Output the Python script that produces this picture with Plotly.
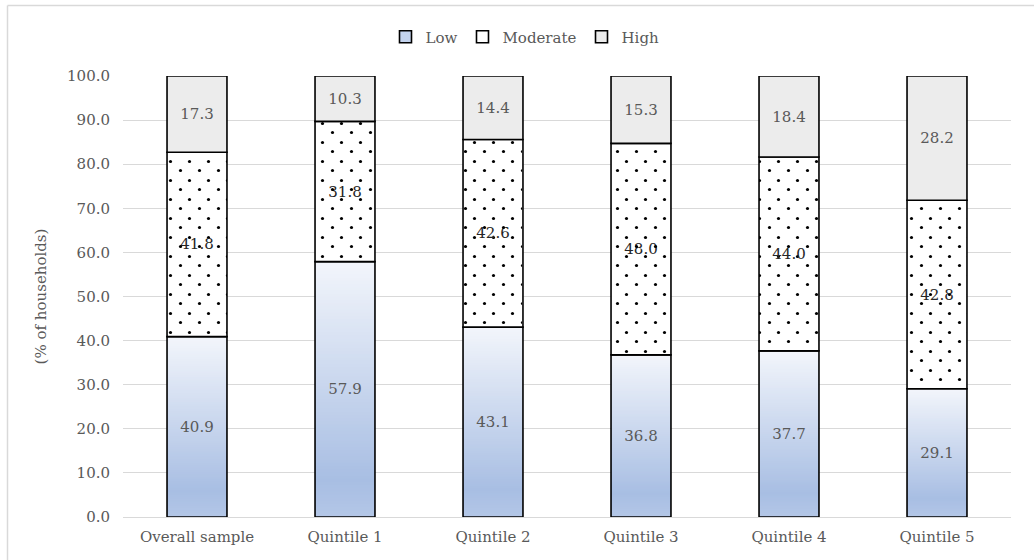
import plotly.graph_objects as go

# Share of households by level, per group
categories = ["Overall sample", "Quintile 1", "Quintile 2", "Quintile 3", "Quintile 4", "Quintile 5"]
low = [40.9, 57.9, 43.1, 36.8, 37.7, 29.1]
moderate = [41.8, 31.8, 42.6, 48.0, 44.0, 42.8]
high = [17.3, 10.3, 14.4, 15.3, 18.4, 28.2]

FONT = "DejaVu Serif"
LABEL_GREY = "#595959"
BAR_W = 0.405
N_BANDS = 80

W, H = 1034, 560
M_L, M_R, M_T, M_B = 123, 23, 76, 43
PW, PH = W - M_L - M_R, H - M_T - M_B
DOT = 19          # dot-pattern tile size (px)
DOT_FILL = 0.022  # share of each tile covered by its dot

# 100% stacked: scale each column to its own total
totals = [a + b + c for a, b, c in zip(low, moderate, high)]
low_n = [v / t * 100 for v, t in zip(low, totals)]
mod_n = [v / t * 100 for v, t in zip(moderate, totals)]
high_n = [v / t * 100 for v, t in zip(high, totals)]
mod_base = low_n
high_base = [a + b for a, b in zip(low_n, mod_n)]

# vertical gradient for the "Low" fill (position from top 0 -> bottom 1)
stops = [(0.0, (242, 245, 251)), (0.85, (168, 190, 227)), (1.0, (180, 199, 231))]


def grad_color(t):
    for (p0, c0), (p1, c1) in zip(stops[:-1], stops[1:]):
        if p0 <= t <= p1:
            f = (t - p0) / (p1 - p0) if p1 > p0 else 0
            r, g, b = (round(c0[k] + (c1[k] - c0[k]) * f) for k in range(3))
            return f"rgb({r},{g},{b})"
    return f"rgb{stops[-1][1]}"


fig = go.Figure()

# gradient: overlapping bars from the base, each shorter one painted darker
for i in range(N_BANDS):
    frac = 1 - i / N_BANDS
    fig.add_trace(go.Bar(
        x=categories, y=[v * frac for v in low_n], base=0, width=BAR_W,
        marker=dict(color=grad_color(i / N_BANDS), line=dict(width=0)),
        showlegend=False, hoverinfo="skip",
    ))

# Low outline + label
fig.add_trace(go.Bar(
    x=categories, y=low_n, base=0, width=BAR_W,
    marker=dict(color="rgba(0,0,0,0)", line=dict(color="black", width=1.6)),
    text=[f"{v:.1f}" for v in low], textposition="inside", insidetextanchor="middle",
    textfont=dict(family=FONT, size=15, color=LABEL_GREY),
    showlegend=False, name="Low",
))

# Moderate: white with a dot pattern
fig.add_trace(go.Bar(
    x=categories, y=mod_n, base=mod_base, width=BAR_W, name="Moderate",
    marker=dict(color="white", line=dict(color="black", width=1.6),
                pattern=dict(shape=".", fgcolor="black", fgopacity=1, bgcolor="white",
                             size=DOT, solidity=DOT_FILL)),
    text=[f"{v:.1f}" for v in moderate], textposition="inside", insidetextanchor="middle",
    textfont=dict(family=FONT, size=15, color="#262626"),
    showlegend=False,
))

# High: light grey
fig.add_trace(go.Bar(
    x=categories, y=high_n, base=high_base, width=BAR_W, name="High",
    marker=dict(color="#ececec", line=dict(color="black", width=1.6)),
    text=[f"{v:.1f}" for v in high], textposition="inside", insidetextanchor="middle",
    textfont=dict(family=FONT, size=15, color=LABEL_GREY),
    showlegend=False,
))

# second dot layer on a subplot whose origin sits about half a tile off -> staggered dots
shift_x, shift_y = 10, 9
fig.add_trace(go.Bar(
    x=categories, y=mod_n, base=mod_base, width=BAR_W * 0.97, xaxis="x2", yaxis="y2",
    marker=dict(color="rgba(0,0,0,0)", line=dict(width=0),
                pattern=dict(shape=".", fgcolor="black", fgopacity=1, bgcolor="rgba(0,0,0,0)",
                             size=DOT, solidity=DOT_FILL)),
    showlegend=False, hoverinfo="skip",
))

# legend keys
for name, color in [("Low", "#c3d3ee"), ("Moderate", "white"), ("High", "#ececec")]:
    fig.add_trace(go.Bar(
        x=[categories[0]], y=[None], name=name, showlegend=True,
        marker=dict(color=color, line=dict(color="black", width=1.6)),
    ))

px_per_cat = PW / len(categories)
px_per_pct = PH / 100.0

fig.update_layout(
    width=W, height=H,
    margin=dict(l=M_L, r=M_R, t=M_T, b=M_B),
    paper_bgcolor="white", plot_bgcolor="rgba(0,0,0,0)",
    barmode="overlay",
    font=dict(family=FONT, size=15, color=LABEL_GREY),
    uniformtext=dict(mode="show", minsize=10),
    legend=dict(orientation="h", xref="container", yref="container",
                x=525 / W, xanchor="center", y=1 - 37 / H, yanchor="middle",
                bgcolor="rgba(0,0,0,0)",
                font=dict(family=FONT, size=15, color=LABEL_GREY),
                itemwidth=30, traceorder="normal"),
    showlegend=True,
    xaxis=dict(
        type="category", range=[-0.5, len(categories) - 0.5], domain=[0, 1], anchor="y",
        showgrid=False, showline=True, linecolor="#d9d9d9", linewidth=1,
        tickfont=dict(family=FONT, size=15, color=LABEL_GREY), ticks="", ticklabelstandoff=6,
    ),
    yaxis=dict(
        range=[0, 100], domain=[0, 1], anchor="x", dtick=10, tickformat=".1f",
        showgrid=True, gridcolor="#d9d9d9", gridwidth=1,
        zeroline=False, showline=False, ticks="", ticklabelstandoff=12,
        tickfont=dict(family=FONT, size=15, color=LABEL_GREY),
        title=dict(text="(% of households)", font=dict(family=FONT, size=15, color=LABEL_GREY), standoff=16),
    ),
    # same scale as the main axes, origin moved by about half a dot tile
    xaxis2=dict(type="category", anchor="y2", domain=[shift_x / PW, 1],
                range=[-0.5 + shift_x / px_per_cat, len(categories) - 0.5], visible=False,
                categoryorder="array", categoryarray=categories, showgrid=False),
    yaxis2=dict(anchor="x2", domain=[0, 1 - shift_y / PH],
                range=[0, 100 - shift_y / px_per_pct], visible=False, showgrid=False),
    shapes=[
        dict(type="line", xref="paper", yref="paper",
             x0=(7.5 - M_L) / PW, x1=(7.5 - M_L) / PW, y0=-0.2, y1=(M_T + PH - 5.5) / PH,
             line=dict(color="#d9d9d9", width=1.5)),
        dict(type="line", xref="paper", yref="paper",
             x0=(7.5 - M_L) / PW, x1=1.1, y0=(M_T + PH - 5.5) / PH, y1=(M_T + PH - 5.5) / PH,
             line=dict(color="#d9d9d9", width=1.5)),
    ],
)

fig.write_html("out.html")
